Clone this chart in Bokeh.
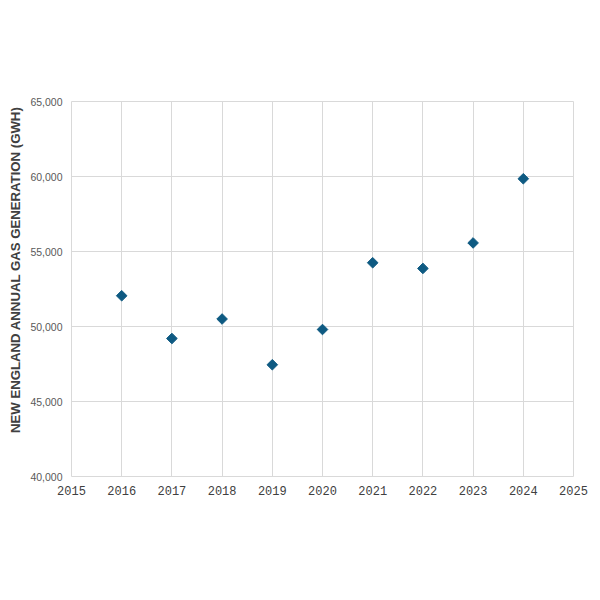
from bokeh.plotting import figure
from bokeh.models import NumeralTickFormatter, FixedTicker, Range1d, Title
from bokeh.embed import file_html
from bokeh.resources import INLINE
import math

years = [2016, 2017, 2018, 2019, 2020, 2021, 2022, 2023, 2024]
gas_gwh = [52050, 49200, 50500, 47450, 49800, 54250, 53870, 55570, 59850]
x_ticks = [2015, 2016, 2017, 2018, 2019, 2020, 2021, 2022, 2023, 2024, 2025]
y_ticks = [40000, 45000, 50000, 55000, 60000, 65000]
y_title = "NEW ENGLAND ANNUAL GAS GENERATION (GWH)"

p = figure(frame_width=502, frame_height=375, output_backend="svg", toolbar_location=None,
           x_range=Range1d(2015, 2025), y_range=Range1d(40000, 65000),
           min_border_left=64, min_border_top=101, min_border_right=18, min_border_bottom=108)

p.scatter(years, gas_gwh, marker="square", size=7.5, angle=math.pi / 4,
          fill_color="#0E5A82", line_color="#0E5A82")

p.outline_line_color = "#d9d9d9"
p.xgrid.grid_line_color = "#d9d9d9"
p.ygrid.grid_line_color = "#d9d9d9"
p.xaxis.ticker = FixedTicker(ticks=x_ticks)
p.yaxis.ticker = FixedTicker(ticks=y_ticks)
p.yaxis.formatter = NumeralTickFormatter(format="0,0")
for ax in (p.xaxis, p.yaxis):
    ax.axis_line_color = None
    ax.major_tick_line_color = None
    ax.minor_tick_line_color = None
p.xaxis.major_label_text_font = "Liberation Mono"
p.xaxis.major_label_text_font_size = "12px"
p.xaxis.major_label_text_color = "#404040"
p.xaxis.major_label_standoff = 3
p.yaxis.major_label_text_font = "Liberation Sans"
p.yaxis.major_label_text_font_size = "10.5px"
p.yaxis.major_label_text_color = "#595959"
p.yaxis.major_tick_out = 0
p.yaxis.major_label_standoff = 9

ttl = Title(text=y_title, align="right", offset=5, vertical_align="bottom", standoff=10,
            text_font="Liberation Sans", text_font_style="bold", text_font_size="13.2px",
            text_color="#404040")
p.add_layout(ttl, "left")

open("out.html", "w").write(file_html(p, INLINE))
